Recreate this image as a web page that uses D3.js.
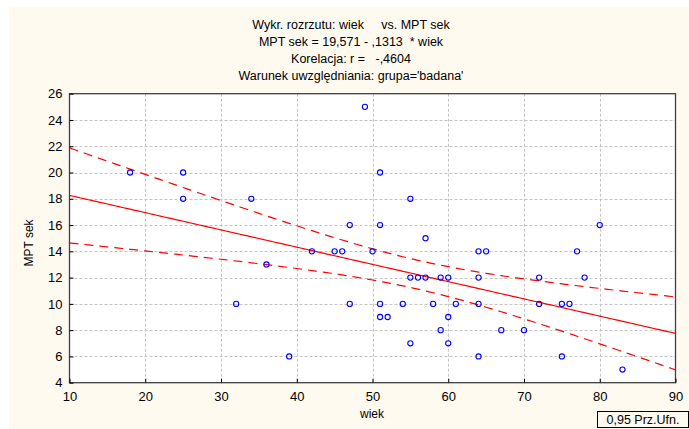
<!DOCTYPE html>
<html><head><meta charset="utf-8">
<script src="https://cdn.jsdelivr.net/npm/d3@7"></script>
<style>body{margin:0;background:#fff}svg{display:block}text{font-family:"Liberation Sans",Arial,sans-serif;fill:#000}</style>
</head><body>
<svg id="c" width="689" height="429"></svg>
<script>
const titleLines = ["Wykr. rozrzutu: wiek     vs. MPT sek",
  "MPT sek = 19,571 - ,1313  * wiek",
  "Korelacja: r =   -,4604",
  "Warunek uwzględniania: grupa='badana'"];
const xLabel = "wiek", yLabel = "MPT sek", boxLabel = "0,95 Prz.Ufn.";
const xTicks = [10,20,30,40,50,60,70,80,90];
const yTicks = [4,6,8,10,12,14,16,18,20,22,24,26];
const intercept = 19.571, slope = -0.1313, tCrit = 2.012;
const wiek = [18,25,25,34,36,32,39,42,45,46,47,47,49,50,51,51,51,51,52,54,55,55,55,56,57,57,58,59,59,60,60,60,61,64,64,64,64,65,67,70,72,72,75,75,76,77,78,80,83];
const mpt  = [20,20,18,18,13,10,6,14,14,14,16,10,25,14,20,16,10,9,9,10,18,12,7,12,15,12,10,12,8,12,9,7,10,14,12,10,6,14,8,8,12,10,10,6,10,14,12,16,5];

const svg = d3.select("#c");
svg.append("rect").attr("x",9).attr("y",7).attr("width",680).attr("height",422).attr("fill","#fffaf0");
const L=69.5,R=675.5,T=93.7,B=382.7;
const x = d3.scaleLinear().domain([10,90]).range([L,R]);
const y = d3.scaleLinear().domain([4,26]).range([B,T]);
svg.append("rect").attr("x",L).attr("y",T).attr("width",R-L).attr("height",B-T).attr("fill","#fff");

// grid
const g = svg.append("g");
g.selectAll(".gx").data(xTicks.slice(1,-1)).join("line")
  .attr("x1",d=>Math.round(x(d))+0.5).attr("x2",d=>Math.round(x(d))+0.5).attr("y1",T).attr("y2",B)
  .attr("stroke","#c4c4c4").attr("stroke-dasharray","3,2");
g.selectAll(".gy").data(yTicks.slice(1,-1)).join("line")
  .attr("y1",d=>Math.round(y(d))+0.5).attr("y2",d=>Math.round(y(d))+0.5).attr("x1",L).attr("x2",R)
  .attr("stroke","#c4c4c4").attr("stroke-dasharray","3,2");

// regression + CI
const n = wiek.length, mx = d3.mean(wiek);
const sxx = d3.sum(wiek, v=>(v-mx)*(v-mx));
const sse = d3.sum(wiek.map((v,i)=>{const r=mpt[i]-(intercept+slope*v);return r*r;}));
const s = Math.sqrt(sse/(n-2));
const xs = d3.range(10,90.01,0.5);
const fit = v=>intercept+slope*v;
const hw = v=>tCrit*s*Math.sqrt(1/n+(v-mx)*(v-mx)/sxx);
svg.append("clipPath").attr("id","cp").append("rect").attr("x",L).attr("y",T).attr("width",R-L).attr("height",B-T);
const line = d3.line().x(d=>x(d[0])).y(d=>y(d[1]));
const pl = svg.append("g").attr("clip-path","url(#cp)");
pl.append("path").attr("d",line(xs.map(v=>[v,fit(v)]))).attr("fill","none").attr("stroke","#ff0000").attr("stroke-width",1.2);
pl.append("path").attr("d",line(xs.map(v=>[v,fit(v)+hw(v)]))).attr("fill","none").attr("stroke","#ff0000").attr("stroke-width",1.2).attr("stroke-dasharray","9,6");
pl.append("path").attr("d",line(xs.map(v=>[v,fit(v)-hw(v)]))).attr("fill","none").attr("stroke","#ff0000").attr("stroke-width",1.2).attr("stroke-dasharray","9,6");

// points
svg.append("g").selectAll("circle").data(wiek.map((v,i)=>[v,mpt[i]])).join("circle")
  .attr("cx",d=>x(d[0])).attr("cy",d=>y(d[1])).attr("r",2.6)
  .attr("fill","none").attr("stroke","#0000ff").attr("stroke-width",1.1);

// frame
svg.append("rect").attr("x",L).attr("y",T).attr("width",R-L).attr("height",B-T).attr("fill","none").attr("stroke","#404040").attr("stroke-width",1.3);

// axes
const xa = svg.append("g").attr("transform",`translate(0,${B})`)
  .call(d3.axisBottom(x).tickValues(xTicks).tickSizeInner(-4).tickSizeOuter(0).tickPadding(9));
const ya = svg.append("g").attr("transform",`translate(${L},0)`)
  .call(d3.axisLeft(y).tickValues(yTicks).tickSizeInner(-4).tickSizeOuter(0).tickPadding(7));
[xa,ya].forEach(a=>{a.select(".domain").remove();a.selectAll("line").attr("stroke","#000");
  a.selectAll("text").attr("font-size",13).attr("font-family","Liberation Sans, Arial, sans-serif").attr("fill","#000");});

// labels
svg.append("text").attr("x",372).attr("y",418).attr("text-anchor","middle").attr("font-size",12).text(xLabel);
svg.append("text").attr("transform","translate(33,243) rotate(-90)").attr("text-anchor","middle").attr("font-size",12).text(yLabel);
svg.append("g").selectAll("text").data(titleLines).join("text")
  .attr("x",351).attr("y",(d,i)=>29+i*17).attr("text-anchor","middle").attr("font-size",12.5)
  .attr("xml:space","preserve").style("white-space","pre").text(d=>d);

// box
svg.append("rect").attr("x",597.5).attr("y",411.5).attr("width",91).attr("height",16).attr("fill","none").attr("stroke","#000");
svg.append("text").attr("x",643).attr("y",424).attr("text-anchor","middle").attr("font-size",12.5).text(boxLabel);
</script>
</body></html>
